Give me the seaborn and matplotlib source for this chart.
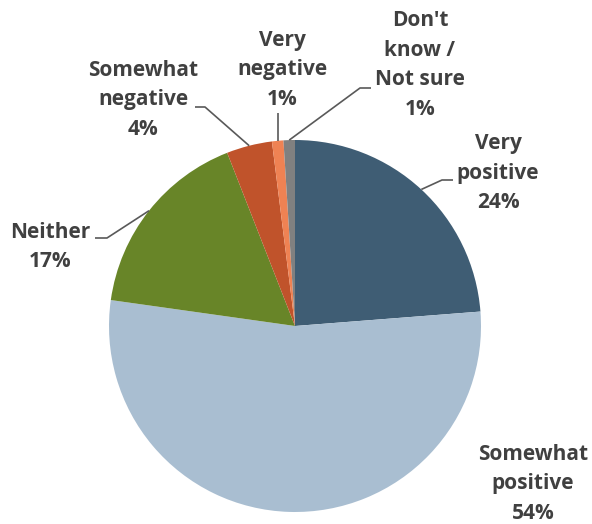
import numpy as np
import matplotlib
matplotlib.use("Agg")
import matplotlib.pyplot as plt
import seaborn as sns

# Survey responses, clockwise from 12 o'clock
categories = ["Very\npositive", "Somewhat\npositive", "Neither", "Somewhat\nnegative",
              "Very\nnegative", "Don't\nknow /\nNot sure"]
shares = [24, 54, 17, 4, 1, 1]
colors = ["#3F5D74", "#A9BED1", "#688528", "#C0532B", "#EF8253", "#808080"]

sns.set_theme(style="white")
plt.rcParams["font.family"] = ["Open Sans", "DejaVu Sans"]
palette = sns.color_palette(colors)

W, H, DPI = 592, 524, 100
fig = plt.figure(figsize=(W / DPI, H / DPI), dpi=DPI)

# pie geometry in pixels
cx, cy, R = 295, 326, 186
ax = fig.add_axes([(cx - R) / W, 1 - (cy + R) / H, 2 * R / W, 2 * R / H])

wedges, _ = ax.pie(shares, colors=palette, startangle=90, counterclock=False,
                   radius=1, wedgeprops=dict(linewidth=0))
ax.set_xlim(-1, 1)
ax.set_ylim(-1, 1)
ax.set_aspect("equal")
ax.axis("off")


def px(x, y):
    """pixel position -> data coordinates"""
    return (x - cx) / R, (cy - y) / R


# label block centre, leader elbow, leader end (pixel layout)
layout = [
    dict(text=(498, 173), elbow=(442, 180), end=(453, 180)),
    dict(text=(533, 484), elbow=None, end=None),
    dict(text=(50, 247), elbow=(107, 238), end=(95, 238)),
    dict(text=(143, 100), elbow=(205, 107), end=(195, 107)),
    dict(text=(282, 70), elbow=None, end=(277, 113)),
    dict(text=(420, 65), elbow=(360, 88), end=(371, 88)),
]

txt_color = "#404040"
line_color = "#595959"
for w, lab, val, lay in zip(wedges, categories, shares, layout):
    tx, ty = px(*lay["text"])
    ax.text(tx, ty, f"{lab}\n{val}%", ha="center", va="center",
            fontsize=15, fontweight="bold", color=txt_color, linespacing=1.55,
            clip_on=False)
    if lay["end"] is None:
        continue
    mid = np.deg2rad((w.theta1 + w.theta2) / 2)
    sx, sy = np.cos(mid), np.sin(mid)
    pts = [(sx, sy)]
    if lay["elbow"] is not None:
        pts.append(px(*lay["elbow"]))
        pts.append(px(*lay["end"]))
    else:
        ex, ey = px(*lay["end"])
        pts.append((sx, ey))
    xs, ys = zip(*pts)
    ax.plot(xs, ys, color=line_color, lw=1.2, solid_capstyle="butt", clip_on=False)

fig.savefig("out.png", dpi=DPI)
